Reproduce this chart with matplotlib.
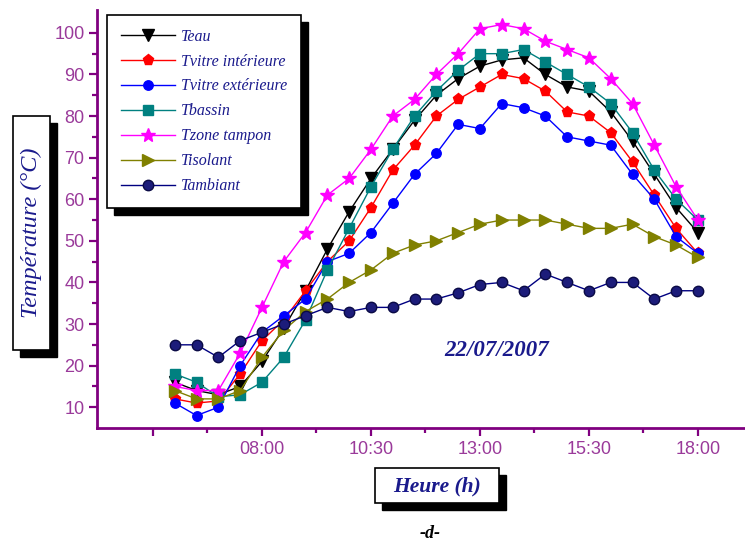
import matplotlib
matplotlib.use("Agg")
import matplotlib.pyplot as plt
from matplotlib.patches import Rectangle
from matplotlib.transforms import IdentityTransform
from matplotlib.font_manager import FontProperties
from matplotlib.ticker import FixedLocator

# ---------------- data ----------------
heures = [6.0, 6.5, 7.0, 7.5, 8.0, 8.5, 9.0, 9.5, 10.0, 10.5, 11.0, 11.5, 12.0,
          12.5, 13.0, 13.5, 14.0, 14.5, 15.0, 15.5, 16.0, 16.5, 17.0, 17.5, 18.0]

t_eau = [16, 14, 13, 15, 21, 29, 38, 48, 57, 65, 72, 79, 85,
         89, 92, 93.5, 94, 90, 87, 86, 81, 74, 66, 58, 52]
t_vitre_int = [12, 11, 11.5, 18, 26, 31, 38, 45, 50, 58, 67, 73, 80,
               84, 87, 90, 89, 86, 81, 80, 76, 69, 61, 53, 47]
t_vitre_ext = [11, 8, 10, 20, 28, 32, 36, 45, 47, 52, 59, 66, 71,
               78, 77, 83, 82, 80, 75, 74, 73, 66, 60, 51, 47]
t_bassin = [18, 16, 12.5, 13, 16, 22, 31, 43, 53, 63, 72, 80, 86,
            91, 95, 95, 96, 93, 90, 87, 83, 76, 67, 60, 55]
t_zone = [15, 14, 14, 23, 34, 45, 52, 61, 65, 72, 80, 84, 90,
          95, 101, 102, 101, 98, 96, 94, 89, 83, 73, 63, 55]
t_isolant = [14, 12, 12, 14, 22, 28.5, 33, 36, 40, 43, 47, 49, 50,
             52, 54, 55, 55, 55, 54, 53, 53, 54, 51, 49, 46]
t_ambiant = [25, 25, 22, 26, 28, 30, 32, 34, 33, 34, 34, 36, 36,
             37.5, 39.5, 40, 38, 42, 40, 38, 40, 40, 36, 38, 38]

series_labels = ["Teau", "Tvitre intérieure", "Tvitre extérieure", "Tbassin",
                 "Tzone tampon", "Tisolant", "Tambiant"]

x_major = [5.5, 8.0, 10.5, 13.0, 15.5, 18.0]
x_major_labels = ["", "08:00", "10:30", "13:00", "15:30", "18:00"]
x_minor = [6.75, 9.25, 11.75, 14.25, 16.75]
y_major = [10, 20, 30, 40, 50, 60, 70, 80, 90, 100]
y_minor = [15, 25, 35, 45, 55, 65, 75, 85, 95]

# ---------------- figure ----------------
W, H = 745, 544
fig = plt.figure(figsize=(W / 100, H / 100), dpi=100)


def fx(px):
    return px / W


def fy(py):
    return 1 - py / H


ax = fig.add_axes([fx(97), fy(428), (745 - 97) / W, (428 - 10) / H])

styles = [
    dict(color="black", marker="v", ms=8, mfc="black", mec="black"),
    dict(color="#ff0000", marker="p", ms=8, mfc="#ff0000", mec="#ff0000"),
    dict(color="#0000ff", marker="o", ms=6.8, mfc="#0000ff", mec="#0000ff"),
    dict(color="#008080", marker="s", ms=6.5, mfc="#008080", mec="#008080"),
    dict(color="#ff00ff", marker="*", ms=10, mfc="#ff00ff", mec="#ff00ff"),
    dict(color="#808000", marker=">", ms=9, mfc="#808000", mec="#808000"),
    dict(color="#000080", marker="o", ms=7.5, mfc="#1c1c7a", mec="#0a0a45"),
]
all_series = [t_eau, t_vitre_int, t_vitre_ext, t_bassin, t_zone, t_isolant, t_ambiant]

handles = []
for vals, lab, st in zip(all_series, series_labels, styles):
    h, = ax.plot(heures, vals, lw=1.0, label=lab, **st)
    handles.append(h)

ax.set_xlim(4.216, 19.08)
ax.set_ylim(5, 105.5)

spine_col = "#800080"
label_col = "#9a3a9a"
for s in ["top", "right"]:
    ax.spines[s].set_visible(False)
for s in ["left", "bottom"]:
    ax.spines[s].set_color(spine_col)
    ax.spines[s].set_linewidth(2)

ax.xaxis.set_major_locator(FixedLocator(x_major))
ax.set_xticklabels(x_major_labels)
ax.xaxis.set_minor_locator(FixedLocator(x_minor))
ax.yaxis.set_major_locator(FixedLocator(y_major))
ax.yaxis.set_minor_locator(FixedLocator(y_minor))

tick_font = "Liberation Sans"
ax.tick_params(which="major", direction="out", length=6, width=1.6,
               color=spine_col, labelcolor=label_col, labelsize=13, pad=3)
ax.tick_params(which="minor", direction="out", length=3.5, width=1.6,
               color=spine_col)
for lab in ax.get_xticklabels() + ax.get_yticklabels():
    lab.set_fontfamily(tick_font)

# ---------------- legend ----------------
text_col = "#1a1a8c"
leg = ax.legend(handles=handles, loc="upper left",
                bbox_to_anchor=(fx(107), fy(15)), bbox_transform=fig.transFigure,
                frameon=True, fancybox=False, edgecolor="black", framealpha=1,
                borderaxespad=0,
                prop=FontProperties(family="Liberation Serif", style="italic", size=11.5),
                labelcolor=text_col, handlelength=3.4, handletextpad=0.4,
                labelspacing=0.56, borderpad=0.85, numpoints=1)
leg.get_frame().set_linewidth(1.2)
leg.set_zorder(6)


def boxed(x0, y0, x1, y1, off=7):
    fig.add_artist(Rectangle((fx(x0 + off), fy(y1 + off)), (x1 - x0) / W, (y1 - y0) / H,
                             transform=fig.transFigure, facecolor="black",
                             edgecolor="black", zorder=1))
    fig.add_artist(Rectangle((fx(x0), fy(y1)), (x1 - x0) / W, (y1 - y0) / H,
                             transform=fig.transFigure, facecolor="white",
                             edgecolor="black", lw=1.2, zorder=2))


# y label box
boxed(13, 116, 50, 350)
fig.text(fx(31.5), fy(233), "Température (°C)", rotation=90, ha="center", va="center",
         family="Liberation Serif", style="italic", fontsize=17.5, color=text_col, zorder=3)

# x label box
boxed(375, 468, 499, 503)
fig.text(fx(437), fy(486), "Heure (h)", ha="center", va="center",
         family="Liberation Serif", style="italic", weight="bold", fontsize=15.5,
         color=text_col, zorder=3)

# date
fig.text(fx(497), fy(350), "22/07/2007", ha="center", va="center",
         family="Liberation Serif", style="italic", weight="bold", fontsize=16.5,
         color=text_col, zorder=3)

# panel letter
fig.text(fx(430), fy(533), "-d-", ha="center", va="center",
         family="Liberation Serif", style="italic", weight="bold", fontsize=13,
         color="black", zorder=3)

# legend shadow
fig.canvas.draw()
bb = leg.get_window_extent()
ax.add_patch(Rectangle((bb.x0 + 7, bb.y0 - 7), bb.width, bb.height,
                       transform=IdentityTransform(), facecolor="black",
                       edgecolor="black", zorder=5.5, clip_on=False))

fig.savefig("out.png", dpi=100)
